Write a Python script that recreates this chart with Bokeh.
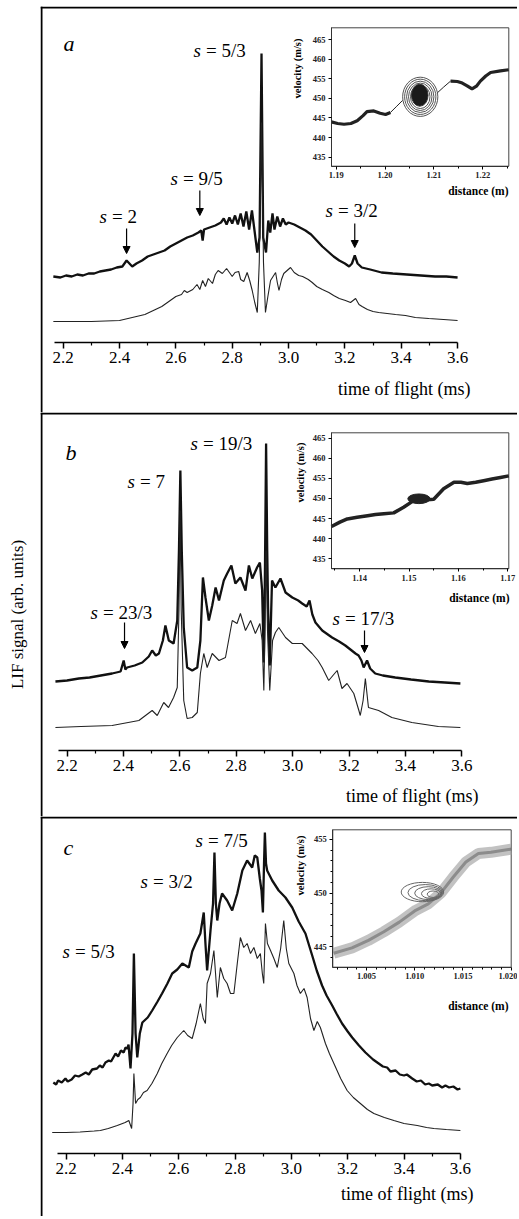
import math
from bokeh.plotting import figure
from bokeh.layouts import column
from bokeh.models import (Range1d, LinearAxis, FixedTicker, NumeralTickFormatter,
                          Span, Label, Arrow, NormalHead)
from bokeh.embed import file_html
from bokeh.resources import INLINE

SERIF = "Liberation Serif"

# ---------------- data ----------------
x_ticks = [2.2, 2.4, 2.6, 2.8, 3.0, 3.2, 3.4, 3.6]
x_minor = [2.3, 2.5, 2.7, 2.9, 3.1, 3.3, 3.5]

# panel a : time of flight (ms), LIF signal (arb. units)
a_upper = [(2.165, 6.6), (2.19, 6.5), (2.21, 6.7), (2.23, 6.6), (2.25, 6.8), (2.27, 6.7), (2.29, 6.9),
           (2.31, 6.9), (2.33, 7.1), (2.35, 7.2), (2.37, 7.3), (2.39, 7.5), (2.41, 7.6), (2.425, 8.2),
           (2.435, 7.9), (2.445, 7.6), (2.46, 7.9), (2.48, 8.2), (2.50, 8.6), (2.52, 8.8), (2.54, 9.0),
           (2.56, 9.2), (2.58, 9.6), (2.60, 9.9), (2.62, 10.2), (2.64, 10.5), (2.66, 10.7), (2.68, 11.0),
           (2.69, 11.2), (2.695, 10.2), (2.70, 11.3), (2.72, 11.5), (2.74, 11.7), (2.76, 12.0),
           (2.77, 12.4), (2.78, 11.8), (2.79, 12.5), (2.80, 11.9), (2.81, 12.7), (2.82, 11.8),
           (2.83, 12.9), (2.84, 11.6), (2.85, 13.1), (2.86, 11.3), (2.87, 13.2), (2.88, 11.0),
           (2.889, 9.0), (2.897, 10.5), (2.904, 28.9), (2.910, 10.5), (2.920, 9.0), (2.928, 12.2),
           (2.935, 11.0), (2.943, 12.9), (2.95, 11.3), (2.96, 12.6), (2.97, 11.6), (2.98, 12.4),
           (2.99, 11.8), (3.00, 12.0), (3.02, 11.8), (3.04, 11.5), (3.06, 11.2), (3.08, 10.8),
           (3.10, 10.2), (3.12, 9.6), (3.14, 9.1), (3.16, 8.6), (3.18, 8.2), (3.20, 7.9), (3.215, 7.6),
           (3.225, 7.9), (3.235, 8.7), (3.245, 7.9), (3.26, 7.5), (3.29, 7.3), (3.33, 7.0), (3.37, 6.9),
           (3.42, 6.8), (3.47, 6.7), (3.52, 6.6), (3.56, 6.6), (3.60, 6.5)]
a_lower = [(2.165, 2.1), (2.20, 2.1), (2.25, 2.1), (2.30, 2.1), (2.35, 2.15), (2.40, 2.2), (2.43, 2.4),
           (2.46, 2.6), (2.49, 2.8), (2.52, 3.2), (2.55, 3.6), (2.565, 3.9), (2.58, 4.2), (2.60, 4.6),
           (2.62, 4.8), (2.63, 5.2), (2.64, 5.0), (2.66, 5.3), (2.675, 5.8), (2.685, 5.3), (2.695, 6.2),
           (2.705, 5.6), (2.715, 6.4), (2.73, 5.9), (2.74, 6.8), (2.75, 7.2), (2.765, 6.9), (2.78, 7.4),
           (2.79, 7.0), (2.80, 6.6), (2.81, 7.0), (2.823, 7.1), (2.83, 6.3), (2.841, 6.1), (2.853, 7.0),
           (2.862, 6.2), (2.871, 5.2), (2.880, 4.0), (2.889, 3.0), (2.896, 8.0), (2.904, 22.0),
           (2.911, 8.0), (2.918, 3.0), (2.926, 4.5), (2.936, 6.2), (2.945, 6.6), (2.954, 7.0),
           (2.960, 6.0), (2.966, 5.2), (2.975, 6.3), (2.983, 6.9), (2.995, 7.2), (3.007, 7.5),
           (3.02, 7.0), (3.036, 6.7), (3.05, 6.6), (3.07, 6.3), (3.084, 6.0), (3.10, 5.6), (3.12, 5.3),
           (3.143, 5.0), (3.16, 4.7), (3.18, 4.4), (3.202, 4.2), (3.22, 4.0), (3.238, 4.4), (3.25, 3.8),
           (3.261, 3.6), (3.28, 3.3), (3.30, 3.1), (3.32, 3.0), (3.35, 2.9), (3.38, 2.8), (3.415, 2.7),
           (3.45, 2.5), (3.498, 2.4), (3.55, 2.3), (3.60, 2.2)]

# panel b
b_upper = [(2.159, 6.9), (2.20, 7.0), (2.242, 7.2), (2.28, 7.3), (2.32, 7.5), (2.36, 7.7), (2.39, 7.9),
           (2.401, 9.0), (2.407, 8.1), (2.413, 8.3), (2.44, 8.5), (2.467, 8.8), (2.49, 9.4),
           (2.502, 10.0), (2.515, 9.5), (2.526, 9.7), (2.54, 11.0), (2.549, 12.5), (2.561, 11.0),
           (2.578, 10.7), (2.591, 13.0), (2.597, 20.0), (2.602, 28.0), (2.607, 20.0), (2.614, 12.3),
           (2.626, 8.3), (2.644, 8.0), (2.662, 8.3), (2.673, 11.0), (2.682, 17.3), (2.691, 15.3),
           (2.703, 13.0), (2.715, 14.5), (2.727, 16.3), (2.739, 15.0), (2.756, 17.0), (2.768, 17.7),
           (2.783, 18.5), (2.797, 16.7), (2.815, 17.3), (2.833, 16.0), (2.845, 18.5), (2.857, 17.2),
           (2.874, 18.3), (2.884, 18.8), (2.892, 16.0), (2.898, 8.8), (2.902, 18.0), (2.906, 30.7),
           (2.910, 20.0), (2.913, 14.3), (2.919, 8.5), (2.927, 17.0), (2.939, 16.3), (2.957, 17.2),
           (2.975, 15.8), (2.999, 15.3), (3.02, 15.0), (3.034, 14.7), (3.05, 14.4), (3.06, 15.0),
           (3.07, 13.6), (3.081, 12.8), (3.105, 12.0), (3.12, 11.7), (3.14, 11.3), (3.165, 10.9),
           (3.187, 10.5), (3.205, 10.1), (3.223, 9.7), (3.234, 9.5), (3.244, 9.0), (3.252, 8.3),
           (3.264, 9.0), (3.275, 8.2), (3.293, 7.7), (3.32, 7.5), (3.364, 7.3), (3.42, 7.1),
           (3.483, 6.9), (3.54, 6.8), (3.595, 6.7)]
b_lower = [(2.159, 2.3), (2.25, 2.4), (2.36, 2.5), (2.455, 3.0), (2.502, 4.0), (2.52, 3.5),
           (2.543, 4.8), (2.56, 4.3), (2.578, 5.3), (2.591, 6.3), (2.597, 14.0), (2.601, 24.0),
           (2.605, 14.0), (2.614, 5.0), (2.626, 3.2), (2.644, 3.3), (2.662, 3.8), (2.673, 7.7),
           (2.685, 9.7), (2.697, 8.3), (2.715, 9.7), (2.739, 9.0), (2.762, 9.3), (2.786, 13.0),
           (2.803, 12.7), (2.815, 13.7), (2.833, 12.0), (2.851, 13.0), (2.868, 11.7), (2.884, 12.7),
           (2.892, 11.0), (2.898, 6.0), (2.902, 12.0), (2.906, 20.0), (2.911, 12.0), (2.919, 6.0),
           (2.929, 11.0), (2.939, 11.8), (2.951, 12.3), (2.975, 11.3), (2.999, 10.7), (3.034, 10.7),
           (3.069, 9.7), (3.09, 9.0), (3.105, 8.3), (3.128, 7.0), (3.158, 8.0), (3.175, 6.2),
           (3.193, 6.7), (3.217, 5.7), (3.235, 4.0), (3.240, 3.5), (3.250, 5.0), (3.258, 7.2),
           (3.269, 4.3), (3.305, 4.0), (3.352, 3.3), (3.423, 2.8), (3.517, 2.4), (3.595, 2.3)]

# panel c
c_upper = [(2.155, 7.1), (2.165, 6.9), (2.172, 7.3), (2.185, 7.1), (2.198, 7.5), (2.206, 7.2),
           (2.22, 7.4), (2.232, 7.8), (2.245, 7.7), (2.258, 7.9), (2.27, 8.1), (2.281, 7.9),
           (2.293, 8.4), (2.31, 8.5), (2.32, 8.8), (2.33, 8.6), (2.340, 9.1), (2.352, 9.3),
           (2.36, 9.2), (2.376, 10.0), (2.385, 9.7), (2.395, 10.3), (2.405, 10.1), (2.411, 10.6),
           (2.418, 10.5), (2.422, 10.9), (2.429, 8.5), (2.436, 12.0), (2.441, 20.0), (2.447, 12.0),
           (2.453, 9.6), (2.462, 12.0), (2.471, 13.1), (2.49, 13.6), (2.506, 14.3), (2.525, 15.2),
           (2.541, 16.0), (2.56, 17.0), (2.577, 18.0), (2.595, 18.4), (2.613, 19.0), (2.636, 18.6),
           (2.648, 20.2), (2.660, 21.0), (2.677, 22.0), (2.689, 24.1), (2.695, 21.0), (2.701, 18.3),
           (2.713, 22.3), (2.722, 25.0), (2.727, 30.1), (2.732, 25.0), (2.737, 23.3), (2.745, 25.0),
           (2.754, 26.0), (2.772, 25.3), (2.790, 24.3), (2.808, 26.0), (2.826, 28.3), (2.843, 29.3),
           (2.861, 28.6), (2.870, 29.8), (2.879, 29.6), (2.888, 27.5), (2.894, 26.3), (2.899, 24.1),
           (2.903, 29.0), (2.906, 32.1), (2.910, 29.0), (2.914, 28.3), (2.932, 27.3), (2.955, 26.3),
           (2.979, 25.6), (3.003, 24.6), (3.026, 23.2), (3.050, 22.0), (3.074, 19.8), (3.09, 18.3),
           (3.109, 16.8), (3.125, 15.8), (3.145, 14.8), (3.16, 14.0), (3.18, 13.0), (3.2, 12.2),
           (3.216, 11.6), (3.24, 10.8), (3.263, 10.1), (3.29, 9.4), (3.31, 9.0), (3.325, 8.7),
           (3.34, 8.6), (3.352, 8.2), (3.37, 8.3), (3.385, 7.9), (3.40, 7.8), (3.41, 7.9),
           (3.429, 7.5), (3.445, 7.2), (3.46, 7.3), (3.475, 6.9), (3.488, 7.0), (3.50, 6.8),
           (3.52, 6.9), (3.535, 6.6), (3.547, 6.8), (3.56, 6.6), (3.575, 6.7), (3.59, 6.4),
           (3.60, 6.5)]
c_lower = [(2.151, 2.1), (2.2, 2.1), (2.25, 2.15), (2.30, 2.25), (2.322, 2.3), (2.35, 2.5),
           (2.382, 2.8), (2.41, 3.1), (2.423, 3.3), (2.433, 2.5), (2.438, 5.0), (2.441, 8.0),
           (2.447, 5.0), (2.455, 5.4), (2.464, 5.6), (2.475, 6.1), (2.488, 6.3), (2.505, 7.0),
           (2.524, 8.0), (2.54, 9.0), (2.559, 10.0), (2.575, 10.8), (2.595, 11.6), (2.618, 12.3),
           (2.632, 11.8), (2.648, 11.5), (2.662, 13.0), (2.677, 15.0), (2.687, 13.5), (2.695, 13.0),
           (2.701, 17.0), (2.713, 18.0), (2.725, 20.3), (2.737, 15.6), (2.748, 18.6), (2.760, 17.5),
           (2.772, 17.0), (2.784, 16.0), (2.796, 16.0), (2.808, 19.0), (2.819, 21.6), (2.831, 20.6),
           (2.843, 21.0), (2.855, 20.0), (2.867, 20.6), (2.879, 19.5), (2.890, 20.0), (2.897, 18.0),
           (2.902, 17.0), (2.908, 23.0), (2.915, 21.0), (2.926, 20.3), (2.938, 19.5), (2.950, 18.6),
           (2.962, 20.5), (2.973, 23.3), (2.982, 20.5), (2.991, 19.0), (3.009, 18.0), (3.020, 16.8),
           (3.032, 16.0), (3.045, 16.5), (3.056, 15.6), (3.068, 13.5), (3.080, 12.3), (3.092, 13.2),
           (3.103, 12.6), (3.121, 11.0), (3.135, 10.0), (3.151, 9.0), (3.175, 7.5), (3.198, 6.3),
           (3.22, 5.6), (3.245, 5.0), (3.27, 4.4), (3.293, 4.0), (3.33, 3.6), (3.364, 3.3),
           (3.40, 3.0), (3.447, 2.8), (3.48, 2.6), (3.506, 2.5), (3.55, 2.4), (3.600, 2.3)]

# resonance labels and arrow positions (ms)
a_res = ["5/3", "9/5", "2", "3/2"]
a_arrow_t = [2.425, 2.685, 3.235]
b_res = ["19/3", "7", "23/3", "17/3"]
b_arrow_t = [2.404, 3.255]
c_res = ["7/5", "3/2", "5/3"]

# insets: distance (m) vs velocity (m/s)
ia_xticks = [1.19, 1.20, 1.21, 1.22]
ia_xminor = [1.195, 1.205, 1.215, 1.225]
ia_yticks = [435, 440, 445, 450, 455, 460, 465]
ia_band_left = [(1.1890, 444.0), (1.1903, 443.6), (1.1916, 443.4), (1.1930, 443.6), (1.1943, 444.3),
                (1.1955, 445.6), (1.1963, 446.6), (1.1977, 446.8), (1.1990, 446.2), (1.2001, 445.9),
                (1.2011, 446.4)]
ia_band_thin1 = [(1.2011, 446.4), (1.2024, 448.0), (1.2036, 449.5)]
ia_band_thin2 = [(1.2106, 451.3), (1.2120, 452.9), (1.2134, 454.4)]
ia_band_right = [(1.2134, 454.4), (1.2148, 454.3), (1.2158, 453.9), (1.2168, 453.2), (1.2178, 452.4),
                 (1.2187, 453.1), (1.2195, 454.4), (1.2206, 455.7), (1.2216, 456.6), (1.2236, 457.0),
                 (1.2253, 457.3)]
ia_cont_w = [0.0072, 0.0064, 0.0056, 0.0048, 0.0040]
ia_cont_h = [10.0, 9.0, 8.0, 7.0, 6.0]
ia_center = (1.2072, 450.4)
ia_core = (1.2071, 450.8, 0.0034, 5.6)

ib_xticks = [1.14, 1.15, 1.16, 1.17]
ib_xminor = [1.135, 1.145, 1.155, 1.165]
ib_yticks = [435, 440, 445, 450, 455, 460, 465]
ib_band = [(1.1343, 443.0), (1.1360, 444.1), (1.1375, 444.9), (1.1395, 445.3), (1.1416, 445.7),
           (1.1432, 446.0), (1.1449, 446.2), (1.1469, 446.4), (1.1489, 447.8), (1.1510, 449.5),
           (1.1530, 449.6), (1.1550, 449.8), (1.1570, 452.4), (1.1591, 454.0), (1.1605, 454.0),
           (1.1618, 453.7), (1.1635, 454.0), (1.1651, 454.4), (1.1668, 454.8), (1.1685, 455.2),
           (1.1702, 455.6)]
ib_blob = (1.1520, 449.9, 0.0045, 2.4)

ic_xticks = [1.005, 1.010, 1.015, 1.020]
ic_xminor = [1.002, 1.003, 1.004, 1.006, 1.007, 1.008, 1.009, 1.011, 1.012, 1.013, 1.014,
             1.016, 1.017, 1.018, 1.019]
ic_yticks = [445, 450, 455]
ic_yminor = [444, 446, 447, 448, 449, 451, 452, 453, 454]
ic_band = [(1.0016, 444.4), (1.0035, 444.9), (1.0052, 445.6), (1.0068, 446.4), (1.0084, 447.3),
           (1.0101, 448.4), (1.0114, 449.0), (1.0127, 450.0), (1.0140, 451.5), (1.0153, 452.9),
           (1.0166, 453.7), (1.0179, 453.8), (1.0200, 454.1)]
ic_cont_x = [1.0108, 1.0111, 1.0114, 1.0117, 1.0119]
ic_cont_v = [450.10, 450.05, 450.00, 449.95, 449.90]
ic_cont_w = [0.0044, 0.0036, 0.0028, 0.0020, 0.0012]
ic_cont_h = [1.8, 1.5, 1.2, 0.9, 0.6]

# ---------------- layout (page pixels; the page itself has no margin) ----------------
FL, FR = 40, 517
W = 517
PANELS = {
    "a": dict(top=0, T=6, B=412, x22=62.7, ppm=281.7, axis=342),
    "b": dict(top=412, T=412, B=816, x22=66.5, ppm=282.0, axis=750),
    "c": dict(top=816, T=816, B=1216, x22=65.5, ppm=281.7, axis=1153),
}


def X(P, px):
    return 2.2 + (px - P["x22"]) / P["ppm"]


def Y(P, py):
    return (P["axis"] - py) / 10.0


def unzip(pairs):
    return [p[0] for p in pairs], [p[1] for p in pairs]


def make_fig(P):
    p = figure(width=W, height=P["B"] - P["top"], output_backend="svg", toolbar_location=None,
               x_range=Range1d(X(P, FL), X(P, FR)), y_range=Range1d(Y(P, P["B"]), Y(P, P["T"])),
               x_axis_location=None, y_axis_location=None, min_border=0, min_border_left=FL,
               min_border_right=W - FR, min_border_top=P["T"] - P["top"], min_border_bottom=0,
               outline_line_color=None, background_fill_color="white")
    p.grid.grid_line_color = None
    ax = LinearAxis(ticker=FixedTicker(ticks=x_ticks, minor_ticks=x_minor),
                    formatter=NumeralTickFormatter(format="0.0"), fixed_location=0,
                    bounds=(X(P, P["x22"] - 9), 3.6),
                    major_tick_out=6, major_tick_in=0, minor_tick_out=3, minor_tick_in=0,
                    axis_line_width=1.5, major_tick_line_width=1.5, minor_tick_line_width=1.2,
                    major_label_standoff=3, major_label_text_font=SERIF,
                    major_label_text_font_size="17px", major_label_text_color="black")
    p.add_layout(ax, "below")
    p.add_layout(Span(location=X(P, FL + 1), dimension="height", line_color="black", line_width=2))
    p.add_layout(Span(location=Y(P, P["T"] + 1), dimension="width", line_color="black", line_width=2))
    return p


def text(p, P, px, py, s, size, style="normal", align="left", angle=0.0):
    p.add_layout(Label(x=X(P, px), y=Y(P, py), text=s, text_font=SERIF, text_font_size=size,
                       text_font_style=style, text_align=align, text_baseline="middle",
                       angle=angle, text_color="black"))


def res_label(p, P, left, cy, frac):
    text(p, P, left + 7.5, cy, "s", "19px", "italic", "right")
    text(p, P, left + 12.5, cy, "= " + frac, "19px", "normal", "left")


def arrow(p, P, t, y0, y1):
    p.add_layout(Arrow(end=NormalHead(size=7, fill_color="black", line_color="black"),
                       x_start=t, y_start=Y(P, y0), x_end=t, y_end=Y(P, y1),
                       line_width=1.2, line_color="black"))


def inset(p, P, box, lims, xt, xmin, xfmt, yt, ymin, lab_v, lab_d):
    L, R, Tb, Bb = box
    x0, x1, y0, y1 = lims
    sx = (x1 - x0) / (R - L)
    sy = (y1 - y0) / (Bb - Tb)
    p.extra_x_ranges = {"ix": Range1d(x0 - (L - FL) * sx, x1 + (FR - R) * sx)}
    p.extra_y_ranges = {"iy": Range1d(y0 - (P["B"] - Bb) * sy, y1 + (Tb - P["T"]) * sy)}
    p.quad(left=[x0], right=[x1], bottom=[y0], top=[y1], x_range_name="ix", y_range_name="iy",
           fill_color="white", line_color="#444444", line_width=1)
    common = dict(x_range_name="ix", y_range_name="iy", major_tick_out=3, major_tick_in=0,
                  minor_tick_out=2, minor_tick_in=0, axis_line_color="#333333",
                  major_label_text_font=SERIF, major_label_text_font_size="8.5px",
                  major_label_text_font_style="bold", major_label_text_color="#222222",
                  major_label_standoff=3)
    xa = LinearAxis(fixed_location=y0, bounds=(x0, x1),
                    ticker=FixedTicker(ticks=xt, minor_ticks=xmin),
                    formatter=NumeralTickFormatter(format=xfmt), **common)
    p.add_layout(xa, "below")
    ya = LinearAxis(fixed_location=x0, bounds=(y0, y1),
                    ticker=FixedTicker(ticks=yt, minor_ticks=ymin),
                    formatter=NumeralTickFormatter(format="0"), **common)
    p.add_layout(ya, "left")
    text(p, P, lab_v[0], lab_v[1], "velocity (m/s)", "10.5px", "bold", "center", math.pi / 2)
    text(p, P, lab_d[0], lab_d[1], "distance (m)", "11.5px", "bold", "right")


figs = []

# ---------- panel a ----------
P = PANELS["a"]
pa = make_fig(P)
t, s = unzip(a_upper)
pa.line(t, s, line_color="#111111", line_width=2.3)
t, s = unzip(a_lower)
pa.line(t, s, line_color="#222222", line_width=1.1)
inset(pa, P, (331, 508.3, 27.3, 165.7), (1.18904, 1.22532, 432.7, 468.0),
      ia_xticks, ia_xminor, "0.00", ia_yticks, [], (297, 68), (508, 190))
for seg, w in ((ia_band_left, 3.2), (ia_band_thin1, 1.0), (ia_band_thin2, 1.0), (ia_band_right, 3.2)):
    bx, bv = unzip(seg)
    pa.line(bx, bv, x_range_name="ix", y_range_name="iy", line_color="#222222", line_width=w)
pa.ellipse(x=[ia_center[0]] * len(ia_cont_w), y=[ia_center[1]] * len(ia_cont_w), width=ia_cont_w,
           height=ia_cont_h, x_range_name="ix", y_range_name="iy", fill_color=None,
           line_color="#555555", line_width=1)
pa.ellipse(x=[ia_core[0]], y=[ia_core[1]], width=[ia_core[2]], height=[ia_core[3]],
           x_range_name="ix", y_range_name="iy", fill_color="#1a1a1a", line_color="#333333")
text(pa, P, 63, 43, "a", "22px", "italic", "left")
pos_a = [(193, 50), (170, 178), (99, 216), (325, 210)]
for frac, (lx, cy) in zip(a_res, pos_a):
    res_label(pa, P, lx, cy, frac)
for tt, (y0, y1) in zip(a_arrow_t, [(228, 253), (190, 215), (223, 247)]):
    arrow(pa, P, tt, y0, y1)
text(pa, P, 470, 388, "time of flight (ms)", "18px", "normal", "right")
figs.append(pa)

# ---------- panel b ----------
P = PANELS["b"]
pb = make_fig(P)
lif = LinearAxis(ticker=FixedTicker(ticks=[]), axis_line_color=None, major_tick_out=0,
                 major_tick_in=0, minor_tick_out=0, major_label_standoff=0,
                 axis_label="LIF signal (arb. units)", axis_label_text_font=SERIF,
                 axis_label_text_font_size="17px", axis_label_text_font_style="normal",
                 axis_label_text_color="black", axis_label_standoff=14)
pb.add_layout(lif, "left")
t, s = unzip(b_upper)
pb.line(t, s, line_color="#111111", line_width=2.3)
t, s = unzip(b_lower)
pb.line(t, s, line_color="#222222", line_width=1.1)
inset(pb, P, (331, 508.3, 432.3, 568.3), (1.1343, 1.1702, 432.5, 466.3),
      ib_xticks, ib_xminor, "0.00", ib_yticks, [], (300, 472), (509, 597))
bx, bv = unzip(ib_band)
pb.line(bx, bv, x_range_name="ix", y_range_name="iy", line_color="#222222", line_width=3.5)
pb.ellipse(x=[ib_blob[0]], y=[ib_blob[1]], width=[ib_blob[2]], height=[ib_blob[3]],
           x_range_name="ix", y_range_name="iy", fill_color="#222222", line_color="#222222")
text(pb, P, 65, 452, "b", "22px", "italic", "left")
pos_b = [(190, 443), (127, 481), (90, 612), (332, 618)]
for frac, (lx, cy) in zip(b_res, pos_b):
    res_label(pb, P, lx, cy, frac)
for tt, (y0, y1) in zip(b_arrow_t, [(622, 648), (630, 652)]):
    arrow(pb, P, tt, y0, y1)
text(pb, P, 478, 795, "time of flight (ms)", "18px", "normal", "right")
figs.append(pb)

# ---------- panel c ----------
P = PANELS["c"]
pc = make_fig(P)
t, s = unzip(c_upper)
pc.line(t, s, line_color="#111111", line_width=2.3)
t, s = unzip(c_lower)
pc.line(t, s, line_color="#222222", line_width=1.1)
inset(pc, P, (332.3, 510.7, 829.3, 966.7), (1.00151, 1.0200, 443.1, 455.9),
      ic_xticks, ic_xminor, "0.000", ic_yticks, ic_yminor, (300, 865), (508, 1005))
bx, bv = unzip(ic_band)
pc.line(bx, bv, x_range_name="ix", y_range_name="iy", line_color="#9a9a9a", line_width=11,
        line_alpha=0.6)
pc.line(bx, bv, x_range_name="ix", y_range_name="iy", line_color="#555555", line_width=3,
        line_alpha=0.5)
pc.ellipse(x=ic_cont_x, y=ic_cont_v, width=ic_cont_w, height=ic_cont_h, x_range_name="ix",
           y_range_name="iy", fill_color=None, line_color="#666666", line_width=1)
text(pc, P, 63, 847, "c", "22px", "italic", "left")
pos_c = [(195, 840), (140, 881), (62, 951)]
for frac, (lx, cy) in zip(c_res, pos_c):
    res_label(pc, P, lx, cy, frac)
text(pc, P, 473, 1193, "time of flight (ms)", "18px", "normal", "right")
figs.append(pc)

layout = column(*figs, spacing=0)
open("out.html", "w").write(file_html(layout, INLINE))
